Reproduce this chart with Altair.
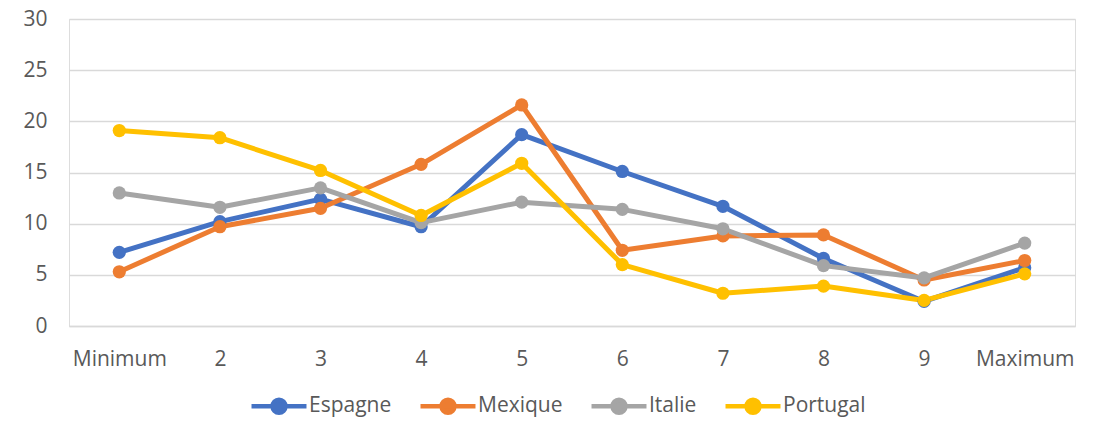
import altair as alt
import pandas as pd

categories = ["Minimum", "2", "3", "4", "5", "6", "7", "8", "9", "Maximum"]
series_names = ["Espagne", "Mexique", "Italie", "Portugal"]
espagne = [7.2, 10.2, 12.4, 9.7, 18.7, 15.1, 11.7, 6.6, 2.4, 5.7]
mexique = [5.3, 9.7, 11.5, 15.8, 21.6, 7.4, 8.8, 8.9, 4.5, 6.4]
italie = [13.0, 11.6, 13.5, 10.1, 12.1, 11.4, 9.5, 5.9, 4.7, 8.1]
portugal = [19.1, 18.4, 15.2, 10.8, 15.9, 6.0, 3.2, 3.9, 2.5, 5.1]
colors = ["#4472C4", "#ED7D31", "#A5A5A5", "#FFC000"]

rows = []
for name, vals in zip(series_names, [espagne, mexique, italie, portugal]):
    for c, v in zip(categories, vals):
        rows.append({"cat": c, "serie": name, "val": v, "ord": series_names.index(name)})
df = pd.DataFrame(rows)

FONT = "Open Sans"
TXT = "#595959"

legend_symbol = ("M-2,0H2M-0.47,0a0.47,0.47 0 1,0 0.94,0"
                 "a0.47,0.47 0 1,0 -0.94,0Z")

color = alt.Color(
    "serie:N",
    scale=alt.Scale(domain=series_names, range=colors),
    legend=alt.Legend(
        title=None,
        orient="none",
        direction="horizontal",
        legendX=194,
        legendY=371,
        padding=0,
        symbolType=legend_symbol,
        symbolSize=756,
        symbolStrokeWidth=4.5,
        symbolOpacity=1,
        labelOffset=14,
        columnPadding=19,
        labelFont=FONT,
        labelFontSize=21,
        labelColor=TXT,
        labelLimit=300,
    ),
)

base = alt.Chart(df).encode(
    x=alt.X(
        "cat:N",
        sort=categories,
        scale=alt.Scale(type="point", padding=0.5),
        axis=alt.Axis(
            title=None,
            labelAngle=0,
            ticks=False,
            domain=True,
            domainColor="#D9D9D9",
            domainWidth=1.5,
            labelPadding=22,
            labelFont=FONT,
            labelFontSize=21,
            labelColor=TXT,
        ),
    ),
    y=alt.Y(
        "val:Q",
        scale=alt.Scale(domain=[0, 30]),
        axis=alt.Axis(
            title=None,
            values=[0, 5, 10, 15, 20, 25, 30],
            ticks=False,
            domain=False,
            grid=True,
            gridColor="#D9D9D9",
            gridWidth=1.5,
            labelPadding=22,
            labelFont=FONT,
            labelFontSize=21,
            labelColor=TXT,
        ),
    ),
    color=color,
    order=alt.Order("ord:Q"),
)

lines = base.mark_line(strokeWidth=5, strokeJoin="round", strokeCap="round")
points = base.mark_circle(size=175, opacity=1)

chart = (
    alt.layer(lines, points)
    .properties(
        width=1006,
        height=307,
        autosize=alt.AutoSizeParams(type="none"),
        padding={"left": 61, "top": 11, "right": 16, "bottom": 91},
    )
    .configure_view(stroke=None)
    .configure(background="white")
)

chart.save("out.html", embed_options={"renderer": "svg", "actions": False})
